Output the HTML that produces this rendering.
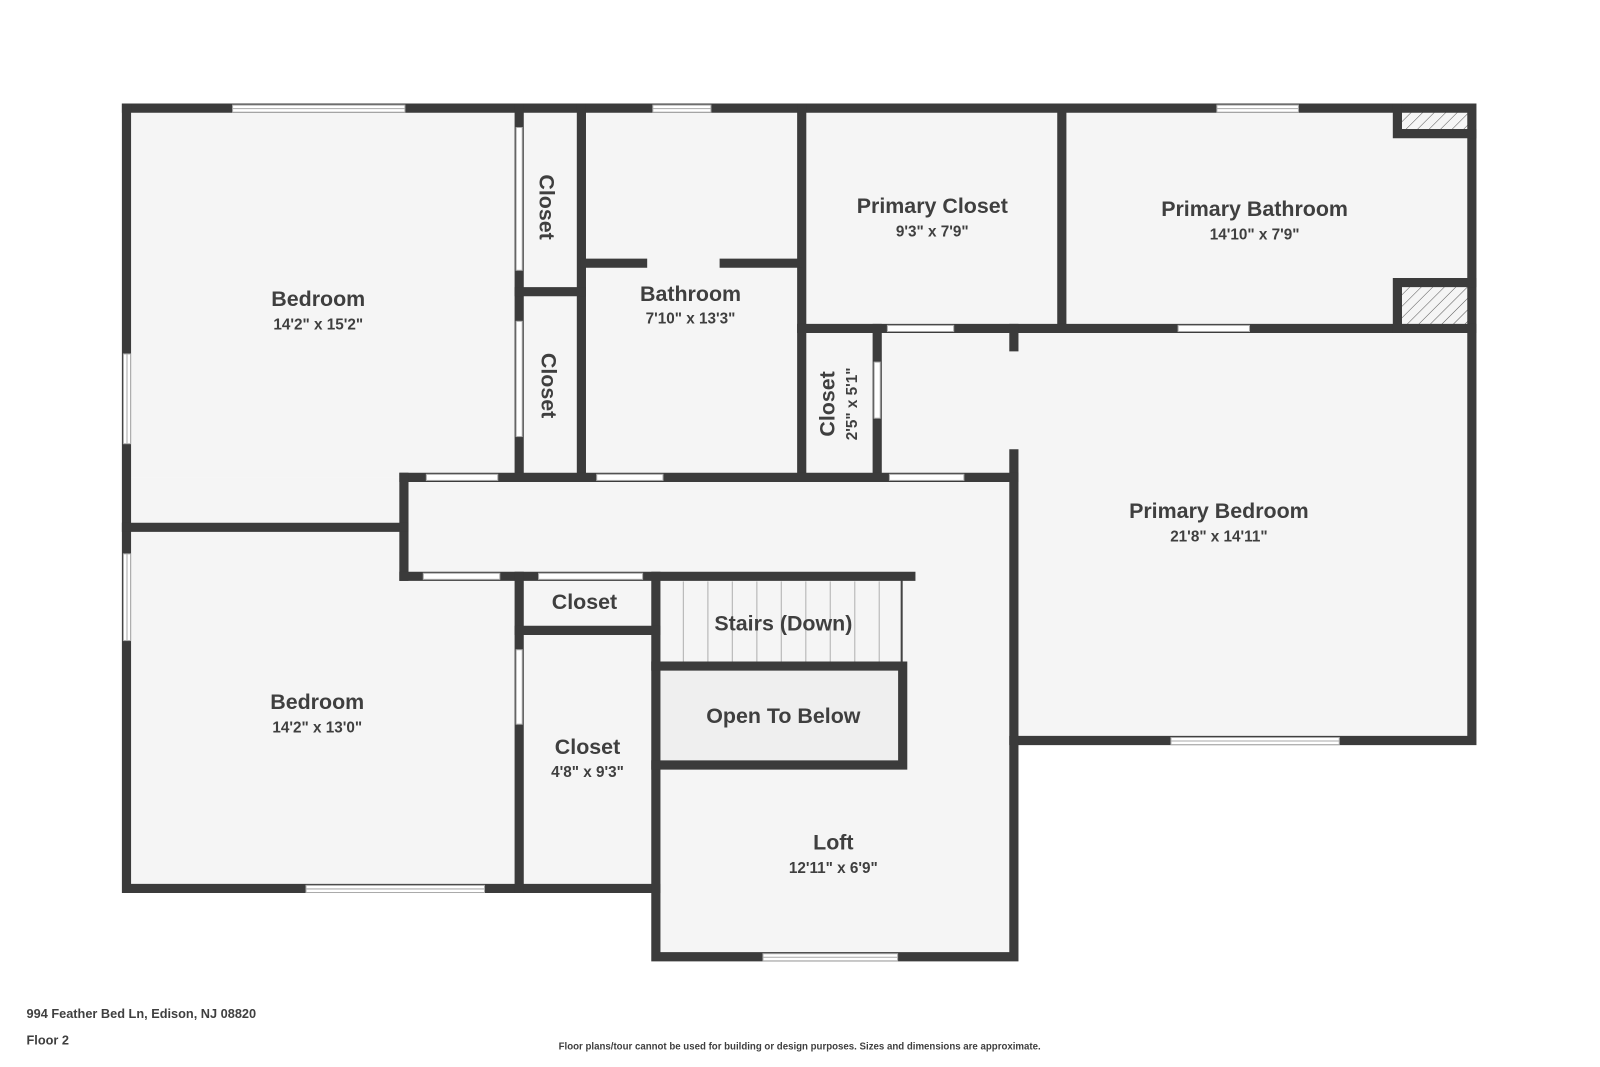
<!DOCTYPE html>
<html><head><meta charset="utf-8"><style>
body{margin:0;background:#fff;}
svg{display:block}
text{font-family:"Liberation Sans",sans-serif;fill:#3f3f3f;text-anchor:middle}
.n{font-size:21px;font-weight:bold}
.d{font-size:15px;font-weight:bold}
</style></head><body>
<svg width="1600" height="1067" viewBox="0 0 1600 1067" xmlns="http://www.w3.org/2000/svg">
<defs>
<pattern id="h" width="8" height="8" patternUnits="userSpaceOnUse" patternTransform="rotate(45)">
<rect width="8" height="8" fill="#f5f5f5"/><line x1="0" y1="0" x2="0" y2="8" stroke="#555" stroke-width="1"/></pattern>
</defs>
<g transform="scale(1.02)">
<g fill="#f5f5f5">
<rect x="124" y="106" width="1319" height="362"/>
<rect x="124" y="468" width="870" height="403"/>
<rect x="643" y="468" width="351" height="470"/>
<rect x="994" y="322" width="449" height="404"/>
</g>
<rect x="643" y="653" width="242" height="97" fill="#efefef"/>
<rect x="1366" y="106" width="77" height="25" fill="url(#h)"/>
<rect x="1366" y="273" width="77" height="49" fill="url(#h)"/>
<g stroke="#bbb" stroke-width="1.2">
<line x1="670" y1="570" x2="670" y2="650"/><line x1="694" y1="570" x2="694" y2="650"/><line x1="718" y1="570" x2="718" y2="650"/><line x1="742" y1="570" x2="742" y2="650"/><line x1="766" y1="570" x2="766" y2="650"/><line x1="790" y1="570" x2="790" y2="650"/><line x1="814" y1="570" x2="814" y2="650"/><line x1="838" y1="570" x2="838" y2="650"/><line x1="862" y1="570" x2="862" y2="650"/>
</g>
<line x1="884" y1="568" x2="884" y2="652" stroke="#444" stroke-width="2"/>
<g stroke="#3b3b3b" stroke-width="9" stroke-linecap="square" fill="none">
<path d="M124 106 H1443 V726 H994"/>
<path d="M124 106 V871 H643"/>
<path d="M643 565 V938 H994 V445"/>
<path d="M509 106 V468"/><path d="M570 106 V468"/><path d="M509 286 H570"/>
<path d="M786 106 V468"/><path d="M574 258 H630"/><path d="M710 258 H782"/>
<path d="M1041 106 V322"/><path d="M786 322 H1443"/>
<path d="M860 322 V468"/><path d="M994 322 V340"/>
<path d="M396 468 H994"/><path d="M396 468 V565"/><path d="M124 517 H396"/>
<path d="M396 565 H893"/>
<path d="M509 565 V871"/><path d="M509 618 H643"/>
<path d="M643 653 H885 V750 H643"/>
<path d="M1370 106 V131 H1443"/><path d="M1370 322 V277 H1443"/>
</g>
<g fill="#fff" stroke="#aaa" stroke-width="1">
<rect x="228" y="103" width="169" height="7"/>
<rect x="640" y="103" width="57" height="7"/>
<rect x="1193" y="103" width="80" height="7"/>
<rect x="121" y="347" width="7" height="88"/>
<rect x="121" y="543" width="7" height="85"/>
<rect x="300" y="868" width="175" height="7"/>
<rect x="748" y="935" width="132" height="7"/>
<rect x="1148" y="723" width="165" height="7"/>
<rect x="506" y="125" width="6" height="140"/>
<rect x="506" y="315" width="6" height="113"/>
<rect x="506" y="637" width="6" height="73"/>
<rect x="857" y="355" width="6" height="55"/>
<rect x="418" y="465" width="70" height="6"/>
<rect x="585" y="465" width="65" height="6"/>
<rect x="872" y="465" width="73" height="6"/>
<rect x="415" y="562" width="75" height="6"/>
<rect x="528" y="562" width="102" height="6"/>
<rect x="870" y="319" width="65" height="6"/>
<rect x="1155" y="319" width="70" height="6"/>
</g>
<g stroke="#aaa" stroke-width="1">
<line x1="228" y1="106.5" x2="397" y2="106.5"/><line x1="640" y1="106.5" x2="697" y2="106.5"/><line x1="1193" y1="106.5" x2="1273" y2="106.5"/>
<line x1="124.5" y1="347" x2="124.5" y2="435"/><line x1="124.5" y1="543" x2="124.5" y2="628"/>
<line x1="300" y1="871.5" x2="475" y2="871.5"/><line x1="748" y1="938.5" x2="880" y2="938.5"/><line x1="1148" y1="726.5" x2="1313" y2="726.5"/>
</g>
<text class="n" x="312" y="300">Bedroom</text><text class="d" x="312" y="323">14'2" x 15'2"</text>
<text class="n" x="311" y="695">Bedroom</text><text class="d" x="311" y="718">14'2" x 13'0"</text>
<text class="n" x="677" y="295">Bathroom</text><text class="d" x="677" y="317">7'10" x 13'3"</text>
<text class="n" x="914" y="209">Primary Closet</text><text class="d" x="914" y="232">9'3" x 7'9"</text>
<text class="n" x="1230" y="212">Primary Bathroom</text><text class="d" x="1230" y="235">14'10" x 7'9"</text>
<text class="n" x="1195" y="508">Primary Bedroom</text><text class="d" x="1195" y="531">21'8" x 14'11"</text>
<text class="n" x="573" y="597">Closet</text>
<text class="n" x="576" y="739">Closet</text><text class="d" x="576" y="762">4'8" x 9'3"</text>
<text class="n" x="768" y="618">Stairs (Down)</text>
<text class="n" x="768" y="709">Open To Below</text>
<text class="n" x="817" y="833">Loft</text><text class="d" x="817" y="856">12'11" x 6'9"</text>
<text class="n" transform="translate(529,203) rotate(90)">Closet</text>
<text class="n" transform="translate(531,378) rotate(90)">Closet</text>
<text class="n" transform="translate(818,396) rotate(-90)">Closet</text>
<text class="d" transform="translate(840,396) rotate(-90)">2'5" x 5'1"</text>
<text x="26" y="998" style="font-size:12.5px;font-weight:bold;text-anchor:start">994 Feather Bed Ln, Edison, NJ 08820</text>
<text x="26" y="1024" style="font-size:12.5px;font-weight:bold;text-anchor:start">Floor 2</text>
<text x="784" y="1029" style="font-size:9.5px;font-weight:bold">Floor plans/tour cannot be used for building or design purposes. Sizes and dimensions are approximate.</text>
</g>
</svg>
</body></html>
